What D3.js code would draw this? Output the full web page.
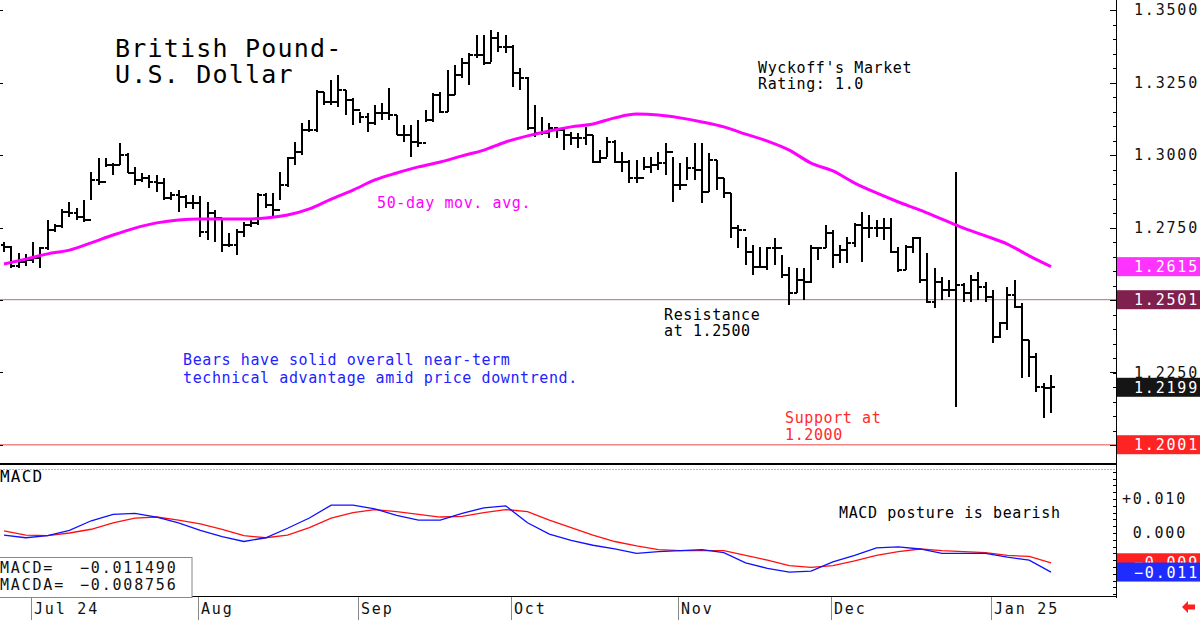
<!DOCTYPE html>
<html>
<head>
<meta charset="utf-8">
<title>GBP/USD</title>
<style>
body { margin: 0; background: #fff; }
svg { display: block; font-family: "DejaVu Sans Mono", monospace; }
.note { font-size: 15px; letter-spacing: 0.6px; }
.axis-txt { font-size: 15px; letter-spacing: 1.8px; fill: #111; }
.title { font-size: 25px; letter-spacing: 1.2px; fill: #000; }
</style>
<script src="https://cdn.jsdelivr.net/npm/d3@7"></script>
</head>
<body>
<svg id="chart" width="1200" height="620"></svg>
<script>
// daily bars, weekdays from 2024-06-25
var firstDay = "2024-06-25";

var highs = [
 1.2700,1.2686,1.2662,1.2659,1.2700,1.2683,1.2776,1.2762,1.2814,1.2838,
 1.2817,1.2845,1.2941,1.2990,1.2990,1.2972,1.3041,1.3007,1.2959,1.2938,
 1.2931,1.2931,1.2921,1.2872,1.2879,1.2862,1.2862,1.2859,1.2838,1.2810,
 1.2783,1.2731,1.2745,1.2769,1.2783,1.2869,1.2869,1.2869,1.2941,1.2993,
 1.3045,1.3110,1.3121,1.3224,1.3217,1.3259,1.3276,1.3224,1.3197,1.3148,
 1.3145,1.3172,1.3179,1.3231,1.3138,1.3103,1.3103,1.3121,1.3155,1.3214,
 1.3217,1.3293,1.3310,1.3334,1.3352,1.3414,1.3414,1.3431,1.3424,1.3414,
 1.3379,1.3300,1.3269,1.3172,1.3131,1.3110,1.3097,1.3093,1.3079,1.3076,
 1.3097,1.3069,1.3017,1.3062,1.3052,1.3010,1.2983,1.2983,1.2993,1.2993,
 1.3010,1.3041,1.2993,1.2972,1.2993,1.3041,1.3041,1.3007,1.2983,1.2921,
 1.2869,1.2759,1.2717,1.2690,1.2683,1.2683,1.2714,1.2655,1.2614,1.2610,
 1.2610,1.2690,1.2683,1.2759,1.2741,1.2690,1.2717,1.2766,1.2803,1.2793,
 1.2776,1.2783,1.2783,1.2683,1.2690,1.2717,1.2717,1.2662,1.2610,1.2579,
 1.2569,1.2941,1.2559,1.2586,1.2597,1.2562,1.2534,1.2424,1.2545,1.2569,
 1.2490,1.2362,1.2317,1.2214,1.2241
];
var lows = [
 1.2666,1.2610,1.2610,1.2617,1.2628,1.2610,1.2672,1.2734,1.2748,1.2786,
 1.2776,1.2769,1.2845,1.2897,1.2959,1.2931,1.2966,1.2938,1.2897,1.2907,
 1.2886,1.2872,1.2845,1.2845,1.2803,1.2817,1.2814,1.2717,1.2707,1.2700,
 1.2666,1.2683,1.2655,1.2717,1.2752,1.2759,1.2817,1.2786,1.2845,1.2890,
 1.2966,1.3000,1.3079,1.3079,1.3172,1.3172,1.3166,1.3138,1.3103,1.3110,
 1.3079,1.3103,1.3121,1.3121,1.3069,1.3045,1.2993,1.3028,1.3114,1.3114,
 1.3145,1.3148,1.3207,1.3266,1.3241,1.3334,1.3310,1.3321,1.3355,1.3352,
 1.3234,1.3224,1.3086,1.3062,1.3069,1.3059,1.3059,1.3017,1.3034,1.3024,
 1.3034,1.2972,1.2972,1.2993,1.2972,1.2941,1.2903,1.2903,1.2948,1.2938,
 1.2948,1.2931,1.2838,1.2879,1.2914,1.2914,1.2834,1.2872,1.2879,1.2852,
 1.2714,1.2679,1.2621,1.2586,1.2610,1.2603,1.2621,1.2576,1.2483,1.2524,
 1.2500,1.2559,1.2638,1.2679,1.2610,1.2628,1.2628,1.2683,1.2631,1.2714,
 1.2717,1.2707,1.2662,1.2597,1.2603,1.2662,1.2559,1.2490,1.2472,1.2500,
 1.2510,1.2131,1.2493,1.2493,1.2500,1.2493,1.2352,1.2369,1.2397,1.2472,
 1.2231,1.2234,1.2183,1.2093,1.2110
];
var opens = [
 1.2690,1.2683,1.2617,1.2631,1.2638,1.2645,1.2679,1.2741,1.2755,1.2803,
 1.2800,1.2786,1.2776,1.2914,1.2907,1.2966,1.2966,1.3000,1.2938,1.2914,
 1.2921,1.2907,1.2903,1.2852,1.2862,1.2855,1.2834,1.2834,1.2734,1.2800,
 1.2783,1.2690,1.2690,1.2734,1.2759,1.2766,1.2862,1.2828,1.2810,1.2897,
 1.2990,1.3010,1.3086,1.3086,1.3217,1.3183,1.3183,1.3224,1.3190,1.3155,
 1.3131,1.3110,1.3145,1.3145,1.3138,1.3069,1.3069,1.3045,1.3041,1.3121,
 1.3207,1.3148,1.3207,1.3276,1.3317,1.3345,1.3345,1.3317,1.3403,1.3372,
 1.3372,1.3283,1.3266,1.3093,1.3076,1.3076,1.3093,1.3086,1.3069,1.3059,
 1.3059,1.3069,1.2976,1.2990,1.3045,1.2976,1.2976,1.2921,1.2921,1.2959,
 1.2966,1.2972,1.3010,1.2897,1.2897,1.2955,1.2948,1.2872,1.2983,1.2921,
 1.2869,1.2748,1.2741,1.2666,1.2614,1.2614,1.2679,1.2679,1.2586,1.2524,
 1.2569,1.2562,1.2679,1.2679,1.2731,1.2655,1.2672,1.2697,1.2759,1.2748,
 1.2748,1.2748,1.2748,1.2666,1.2603,1.2683,1.2714,1.2569,1.2493,1.2562,
 1.2534,1.2534,1.2552,1.2524,1.2569,1.2545,1.2510,1.2372,1.2421,1.2517,
 1.2476,1.2362,1.2303,1.2200,1.2197
];
var closes = [
 1.2683,1.2617,1.2631,1.2638,1.2645,1.2679,1.2741,1.2755,1.2803,1.2800,
 1.2786,1.2776,1.2914,1.2907,1.2966,1.2966,1.3000,1.2938,1.2914,1.2921,
 1.2907,1.2903,1.2852,1.2862,1.2855,1.2834,1.2834,1.2734,1.2800,1.2783,
 1.2690,1.2690,1.2734,1.2759,1.2766,1.2862,1.2828,1.2810,1.2897,1.2990,
 1.3010,1.3086,1.3086,1.3217,1.3183,1.3183,1.3224,1.3190,1.3155,1.3131,
 1.3110,1.3145,1.3145,1.3138,1.3069,1.3069,1.3045,1.3041,1.3121,1.3207,
 1.3148,1.3207,1.3276,1.3317,1.3345,1.3345,1.3317,1.3403,1.3372,1.3372,
 1.3283,1.3266,1.3093,1.3076,1.3076,1.3093,1.3086,1.3069,1.3059,1.3059,
 1.3069,1.2976,1.2990,1.3045,1.2976,1.2976,1.2921,1.2921,1.2959,1.2966,
 1.2972,1.3010,1.2897,1.2897,1.2955,1.2948,1.2872,1.2983,1.2921,1.2869,
 1.2748,1.2741,1.2666,1.2614,1.2614,1.2679,1.2679,1.2586,1.2524,1.2569,
 1.2562,1.2679,1.2679,1.2731,1.2655,1.2672,1.2697,1.2759,1.2748,1.2748,
 1.2748,1.2748,1.2666,1.2603,1.2683,1.2714,1.2569,1.2493,1.2562,1.2534,
 1.2534,1.2552,1.2524,1.2569,1.2545,1.2510,1.2372,1.2421,1.2517,1.2476,
 1.2362,1.2303,1.2200,1.2197,1.2199
];

// sampled every 3rd bar (bar 0, 3, 6 ... 144)
var sampleStep = 3;
var ma50 = [
 1.2624,1.2641,1.2659,1.2672,1.2697,1.2724,1.2748,1.2766,1.2776,1.2779,
 1.2779,1.2779,1.2783,1.2793,1.2814,1.2848,1.2879,1.2914,1.2938,1.2959,
 1.2976,1.2997,1.3017,1.3045,1.3066,1.3083,1.3097,1.3107,1.3128,1.3141,
 1.3138,1.3128,1.3114,1.3097,1.3072,1.3048,1.3017,1.2972,1.2945,1.2903,
 1.2869,1.2838,1.2810,1.2779,1.2748,1.2721,1.2693,1.2652,1.2615
];
var macd = [
 -0.0006,-0.0014,-0.0008,0.0008,0.0036,0.0055,0.0058,0.0047,0.0030,0.0008,
 -0.0011,-0.0025,-0.0014,0.0014,0.0044,0.0082,0.0082,0.0071,0.0052,0.0038,
 0.0038,0.0058,0.0074,0.0080,0.0030,-0.0003,-0.0022,-0.0036,-0.0047,-0.0060,
 -0.0055,-0.0052,-0.0049,-0.0058,-0.0088,-0.0104,-0.0115,-0.0112,-0.0085,-0.0066,
 -0.0044,-0.0041,-0.0047,-0.0060,-0.0060,-0.0060,-0.0071,-0.0080,-0.011490
];
var macdSignal = [
 0.0006,-0.0006,-0.0008,0.0000,0.0011,0.0030,0.0044,0.0047,0.0038,0.0027,
 0.0011,-0.0008,-0.0014,-0.0006,0.0016,0.0044,0.0060,0.0069,0.0063,0.0055,
 0.0047,0.0049,0.0060,0.0069,0.0063,0.0038,0.0016,-0.0006,-0.0025,-0.0038,
 -0.0049,-0.0052,-0.0052,-0.0052,-0.0066,-0.0080,-0.0096,-0.0101,-0.0096,-0.0082,
 -0.0066,-0.0055,-0.0047,-0.0052,-0.0055,-0.0058,-0.0066,-0.0069,-0.008756
];

var resistance = 1.2501;
var support = 1.2001;
var monthLabels = ["Jul 24", "Aug", "Sep", "Oct", "Nov", "Dec", "Jan 25"];
var priceTicks = [1.35, 1.325, 1.30, 1.275, 1.25, 1.225, 1.20];
var macdTicks = [0.010, 0.000];

var svg = d3.select("#chart");
var N = closes.length;
var axisX = 1116;

var x = d3.scaleLinear().domain([0, N - 1]).range([4, 1051]);
var y = d3.scaleLinear().domain([1.20, 1.35]).range([445, 10]);
var ym = d3.scaleLinear().domain([-0.01, 0.01]).range([567, 499]);
var f4 = d3.format(".4f"), f3 = d3.format(".3f");

var start = new Date(firstDay + "T00:00:00Z");
var dates = d3.utcDay.range(start, d3.utcDay.offset(start, 300))
    .filter(function(d) { return d.getUTCDay() % 6 !== 0; })
    .slice(0, N);

// --- horizontal level lines
svg.append("line").attr("x1", 0).attr("x2", axisX).attr("y1", y(resistance)).attr("y2", y(resistance))
    .attr("stroke", "#b98f9c").attr("stroke-width", 1.2);
svg.append("line").attr("x1", 0).attr("x2", axisX).attr("y1", y(support)).attr("y2", y(support))
    .attr("stroke", "#f08888").attr("stroke-width", 1.4);

// --- price bars
var bars = svg.append("g").attr("stroke", "#000").attr("shape-rendering", "crispEdges");
closes.forEach(function(c, i) {
    var bx = Math.round(x(i));
    bars.append("line").attr("x1", bx).attr("x2", bx)
        .attr("y1", y(highs[i])).attr("y2", y(lows[i])).attr("stroke-width", 2);
    bars.append("line").attr("x1", bx - 3).attr("x2", bx)
        .attr("y1", Math.round(y(opens[i]))).attr("y2", Math.round(y(opens[i]))).attr("stroke-width", 1.5);
    bars.append("line").attr("x1", bx).attr("x2", bx + 4)
        .attr("y1", Math.round(y(c))).attr("y2", Math.round(y(c))).attr("stroke-width", 1.5);
});

// --- 50 day moving average
svg.append("path")
    .datum(ma50)
    .attr("fill", "none").attr("stroke", "#ff00ff").attr("stroke-width", 3)
    .attr("d", d3.line()
        .x(function(d, i) { return x(i * sampleStep); })
        .y(function(d) { return y(d); })
        .curve(d3.curveMonotoneX));

// --- notes in price panel
function note(lines, x0, y0, color, dy) {
    var t = svg.append("text").attr("class", "note").attr("fill", color);
    lines.forEach(function(s, k) {
        t.append("tspan").attr("x", x0).attr("y", y0 + k * dy).text(s);
    });
}
svg.append("text").attr("class", "title").attr("x", 115).attr("y", 57).text("British Pound-");
svg.append("text").attr("class", "title").attr("x", 115).attr("y", 83).text("U.S. Dollar");
note(["Wyckoff's Market", "Rating: 1.0"], 758, 73, "#000", 16);
note(["50-day mov. avg."], 377, 208, "#ff00ff", 16);
note(["Resistance", "at 1.2500"], 664, 320, "#000", 16);
note(["Bears have solid overall near-term", "technical advantage amid price downtrend."], 183, 365, "#2222ff", 18);
note(["Support at", "1.2000"], 785, 423, "#ff2a2a", 17);

// --- panel separators
svg.append("line").attr("x1", 0).attr("x2", axisX).attr("y1", 464).attr("y2", 464)
    .attr("stroke", "#000").attr("stroke-width", 2);
svg.append("line").attr("x1", 0).attr("x2", axisX).attr("y1", 469.5).attr("y2", 469.5)
    .attr("stroke", "#f4a0a0").attr("stroke-width", 1).attr("stroke-dasharray", "2,1");
svg.append("line").attr("x1", 0).attr("x2", axisX).attr("y1", 596.5).attr("y2", 596.5)
    .attr("stroke", "#000").attr("stroke-width", 1);

// --- MACD lines
var mline = d3.line()
    .x(function(d, i) { return x(i * sampleStep); })
    .y(function(d) { return ym(d); });
svg.append("path").datum(macdSignal).attr("fill", "none").attr("stroke", "#ff1010").attr("stroke-width", 1.3).attr("d", mline);
svg.append("path").datum(macd).attr("fill", "none").attr("stroke", "#1010ff").attr("stroke-width", 1.3).attr("d", mline);

svg.append("text").attr("x", 0).attr("y", 482).attr("font-size", 16).attr("letter-spacing", 1.2).text("MACD");
note(["MACD posture is bearish"], 839, 518, "#000", 16);

// legend box
svg.append("rect").attr("x", -1).attr("y", 557.5).attr("width", 193).attr("height", 40)
    .attr("fill", "#fff").attr("stroke", "#888");
var lg = svg.append("g").attr("class", "axis-txt");
lg.append("text").attr("x", 0).attr("y", 573).text("MACD=");
lg.append("text").attr("x", 80).attr("y", 573).text(d3.format(".6f")(macd[macd.length - 1]));
lg.append("text").attr("x", 0).attr("y", 590).text("MACDA=");
lg.append("text").attr("x", 80).attr("y", 590).text(d3.format(".6f")(macdSignal[macdSignal.length - 1]));

// --- month axis
var monthStarts = [];
dates.forEach(function(d, i) {
    if (i > 0 && d.getUTCMonth() !== dates[i - 1].getUTCMonth()) monthStarts.push(i);
});
var mg = svg.selectAll(".month").data(monthStarts).enter().append("g").attr("class", "month");
mg.append("line")
    .attr("x1", function(i) { return Math.round(x(i)) - 1.5; })
    .attr("x2", function(i) { return Math.round(x(i)) - 1.5; })
    .attr("y1", 597).attr("y2", 620).attr("stroke", "#888");
mg.append("text").attr("class", "axis-txt")
    .attr("x", function(i) { return Math.round(x(i)) + 1; })
    .attr("y", 614)
    .text(function(i, k) { return monthLabels[k]; });

// --- right axis
svg.append("line").attr("x1", axisX + 0.5).attr("x2", axisX + 0.5).attr("y1", 0).attr("y2", 598)
    .attr("stroke", "#000");
var minor = svg.append("g").attr("stroke", "#000").attr("shape-rendering", "crispEdges");
d3.range(1.200, 1.3526, 0.005).forEach(function(p) {
    var yy = Math.round(y(p)) + 0.5;
    minor.append("line").attr("x1", axisX - 3).attr("x2", axisX).attr("y1", yy).attr("y2", yy);
});
d3.range(-0.018, 0.0181, 0.002).forEach(function(v) {
    var yy = Math.round(ym(v)) + 0.5;
    if (yy > 472 && yy < 596) minor.append("line").attr("x1", axisX - 3).attr("x2", axisX).attr("y1", yy).attr("y2", yy);
});
priceTicks.forEach(function(p) {
    var yy = Math.round(y(p)) + 0.5;
    minor.append("line").attr("x1", axisX - 6).attr("x2", axisX).attr("y1", yy).attr("y2", yy);
    minor.append("line").attr("x1", 0).attr("x2", 3).attr("y1", yy).attr("y2", yy);
});

svg.selectAll(".ptick").data(priceTicks).enter().append("text")
    .attr("class", "axis-txt").attr("text-anchor", "end")
    .attr("x", 1199).attr("y", function(p) { return y(p) + 5; })
    .text(function(p) { return f4(p); });
svg.selectAll(".mtick").data(macdTicks).enter().append("text")
    .attr("class", "axis-txt").attr("text-anchor", "end")
    .attr("x", 1187).attr("y", function(v) { return ym(v) + 5; })
    .text(function(v) { return (v > 0 ? "+" : "") + f3(v); });

// value boxes on the right
var boxes = [
    {yy: y(ma50[ma50.length - 1]), fill: "#ff33ff", txt: f4(ma50[ma50.length - 1])},
    {yy: y(resistance), fill: "#80204f", txt: f4(resistance)},
    {yy: y(closes[N - 1]), fill: "#151515", txt: f4(closes[N - 1])},
    {yy: y(support), fill: "#ff2424", txt: f4(support)},
    {yy: ym(macdSignal[macdSignal.length - 1]), fill: "#ff2020", txt: f3(macdSignal[macdSignal.length - 1])},
    {yy: ym(macd[macd.length - 1]), fill: "#1f2cff", txt: f3(macd[macd.length - 1])}
];
var bg = svg.selectAll(".vbox").data(boxes).enter().append("g");
bg.append("rect").attr("x", axisX + 1).attr("width", 83)
    .attr("y", function(d) { return d.yy - 9.5; }).attr("height", 19)
    .attr("fill", function(d) { return d.fill; });
bg.append("text").attr("class", "axis-txt")
    .attr("x", function(d) { return d.txt.length > 6 ? 1187 : 1199; })
    .attr("text-anchor", "end")
    .attr("y", function(d) { return d.yy + 5.5; })
    .style("fill", "#fff")
    .text(function(d) { return d.txt; });

// little red arrow, bottom right
svg.append("path").attr("d", "M1182,607 L1188,601 L1188,604.5 L1195,604.5 L1195,609.5 L1188,609.5 L1188,613 Z")
    .attr("fill", "#ff2020");
</script>
</body>
</html>
